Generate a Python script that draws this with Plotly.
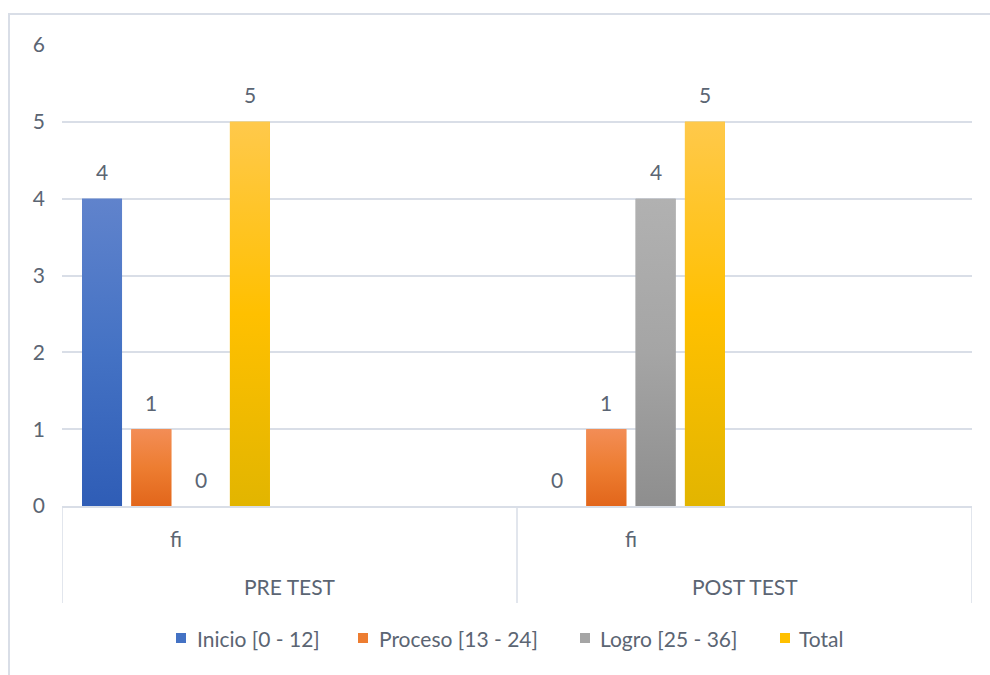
import plotly.graph_objects as go

# ---- data -------------------------------------------------------------
groups = ["PRE TEST", "POST TEST"]
sub_label = "fi"
series = ["Inicio [0 - 12]", "Proceso [13 - 24]", "Logro [25 - 36]", "Total"]
inicio = [4, 0]
proceso = [1, 1]
logro = [0, 4]
total = [5, 5]
values = [inicio, proceso, logro, total]
y_ticks = [0, 1, 2, 3, 4, 5, 6]

# ---- styling ----------------------------------------------------------
colors = ["#4472C4", "#ED7D31", "#A5A5A5", "#FFC000"]
# vertical gradients (bottom -> middle -> top) in the Office style
gradients = [
    ["#2f5db6", "#4472C4", "#6083cc"],
    ["#e2661b", "#ED7D31", "#f38d56"],
    ["#8e8e8e", "#A5A5A5", "#b1b1b1"],
    ["#e2b500", "#FFC000", "#ffc94b"],
]
text_color = "#5b6573"
line_color = "#d9dee7"
font_family = "Lato, 'Open Sans', sans-serif"
font_size = 21

W, H = 990, 675
PLOT_L, PLOT_R, PLOT_T, PLOT_B = 62, 972, 45, 506
SLOT_PX = (PLOT_R - PLOT_L) / 4.0          # each group has two sub-slots


def px_x(px):
    return (px - PLOT_L) / (PLOT_R - PLOT_L)


def px_y(py):
    return (PLOT_B - py) / (PLOT_B - PLOT_T)


BAR_W = 40 / SLOT_PX
PITCH = 49.3 / SLOT_PX
FIRST_OFFSET = -0.412

# the "fi" sub-category of each group sits in the first of its two slots
slot_x = [2 * g for g in range(len(groups))]

fig = go.Figure()
annotations = []
for k, (name, vals) in enumerate(zip(series, values)):
    off = FIRST_OFFSET + k * PITCH
    fig.add_trace(go.Bar(
        name=name,
        x=slot_x,
        y=vals,
        width=BAR_W,
        offset=off,
        marker=dict(color=colors[k], line=dict(width=0)),
        hoverinfo="y+name",
        showlegend=False,
    ))
    # gradient face for each bar, spanning the same extent as the bar
    cs = [[0.0, gradients[k][0]], [0.5, gradients[k][1]], [1.0, gradients[k][2]]]
    for xs, v in zip(slot_x, vals):
        if v > 0:
            x0, x1 = xs + off, xs + off + BAR_W
            fig.add_trace(go.Scatter(
                x=[x0, x0, x1, x1, x0], y=[0, v, v, 0, 0],
                mode="lines", line=dict(width=0), fill="toself",
                fillgradient=dict(type="vertical", colorscale=cs,
                                  start=0, stop=v),
                hoverinfo="skip", showlegend=False,
            ))
        annotations.append(dict(
            x=xs + off + BAR_W / 2, y=v, xref="x", yref="y",
            text=str(v), showarrow=False, yanchor="middle", yshift=27,
            font=dict(family=font_family, size=font_size, color=text_color),
        ))

# sub-category and group labels under the axis
for g, name in enumerate(groups):
    annotations.append(dict(
        x=slot_x[g], y=px_y(538), xref="x", yref="paper", text=sub_label,
        showarrow=False, yanchor="middle",
        font=dict(family=font_family, size=font_size, color=text_color),
    ))
    annotations.append(dict(
        x=slot_x[g] + 0.5, y=px_y(586), xref="x", yref="paper", text=name,
        showarrow=False, yanchor="middle",
        font=dict(family=font_family, size=font_size, color=text_color),
    ))

shapes = []
# category axis dividers
for xb in [-0.5, 1.5, 3.5]:
    shapes.append(dict(type="line", xref="x", yref="paper",
                       x0=xb, x1=xb, y0=0, y1=px_y(603),
                       line=dict(color=line_color, width=1.5)))
# chart area frame (top and left edges)
shapes.append(dict(type="line", xref="paper", yref="paper",
                   x0=px_x(8), x1=px_x(W), y0=px_y(14), y1=px_y(14),
                   line=dict(color=line_color, width=2)))
shapes.append(dict(type="line", xref="paper", yref="paper",
                   x0=px_x(9), x1=px_x(9), y0=px_y(14), y1=px_y(H),
                   line=dict(color=line_color, width=2)))

# legend row: swatch left edges and label left edges (px)
LEGEND_Y = 638
legend_swatch_px = [176, 358, 580, 780]
legend_text_px = [195, 377, 598, 797]
for k, name in enumerate(series):
    sx = legend_swatch_px[k]
    shapes.append(dict(type="rect", xref="paper", yref="paper",
                       x0=px_x(sx), x1=px_x(sx + 10),
                       y0=px_y(LEGEND_Y + 5), y1=px_y(LEGEND_Y - 5),
                       fillcolor=colors[k], line=dict(width=0)))
    annotations.append(dict(
        x=px_x(legend_text_px[k]), y=px_y(LEGEND_Y), xref="paper", yref="paper",
        text=name, showarrow=False, xanchor="left", yanchor="middle",
        font=dict(family=font_family, size=font_size, color=text_color),
    ))

fig.update_layout(
    width=W, height=H,
    margin=dict(l=PLOT_L, r=W - PLOT_R, t=PLOT_T, b=H - PLOT_B),
    paper_bgcolor="white", plot_bgcolor="white",
    barmode="overlay",
    font=dict(family=font_family, size=font_size, color=text_color),
    showlegend=False,
    xaxis=dict(range=[-0.5, 3.5], showticklabels=False, showgrid=False,
               zeroline=False, showline=True, linecolor=line_color,
               linewidth=1.5, fixedrange=True),
    yaxis=dict(range=[0, 6], tickvals=y_ticks, showgrid=True,
               gridcolor=line_color, gridwidth=1.5, zeroline=False,
               showline=False, ticks="", ticklabelstandoff=16,
               tickfont=dict(family=font_family, size=font_size, color=text_color)),
    annotations=annotations,
    shapes=shapes,
)

fig.write_html("out.html")
